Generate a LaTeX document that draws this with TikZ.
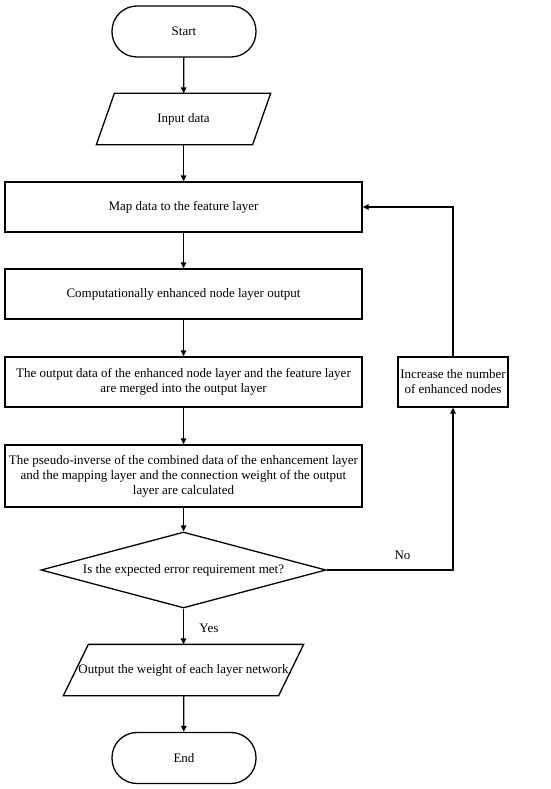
\documentclass[tikz,border=0pt]{standalone}
\usepackage{fontspec}
\setmainfont{Liberation Serif}
\usetikzlibrary{shapes.geometric,arrows.meta,calc}
\begin{document}
\begin{tikzpicture}[x=1pt,y=-1pt,line width=1.3pt,
  font=\fontsize{13}{15}\selectfont,
  box/.style={draw, minimum width=357pt, minimum height=50pt, align=center, inner sep=2pt},
  term/.style={draw, rounded corners=25pt, minimum width=144pt, minimum height=51pt, inner sep=2pt},
  io/.style={minimum height=50pt, inner sep=0pt, align=center},
  decision/.style={draw, diamond, aspect=3.75, minimum width=285pt, minimum height=76pt, inner sep=0pt},
  arr/.style={-{Triangle[length=6pt,width=5.5pt]}}]
\useasboundingbox (0,0) rectangle (550,789);
\fill[white] (0,0) rectangle (550,789);

\node[term] (start) at (184,31.5) {Start};
\node[io, minimum width=173pt] (in) at (183.5,119) {Input data};
\draw ($(in.north west)+(18,0)$) -- (in.north east) -- ($(in.south east)+(-18,0)$) -- (in.south west) -- cycle;
\node[box] (map) at (183.5,207) {Map data to the feature layer};
\node[box] (comp) at (183.5,294) {Computationally enhanced node layer output};
\node[box] (merge) at (183.5,382) {The output data of the enhanced node layer and the feature layer\\are merged into the output layer};
\node[box, minimum width=110pt] (inc) at (453,382) {Increase the number\\of enhanced nodes};
\node[box, minimum height=62pt] (pseudo) at (183.5,476) {The pseudo-inverse of the combined data of the enhancement layer\\and the mapping layer and the connection weight of the output\\layer are calculated};
\node[decision] (dec) at (183.5,570) {Is the expected error requirement met?};
\node[io, minimum width=239pt] (out) at (183.5,670) {Output the weight of each layer network};
\draw ($(out.north west)+(25,0)$) -- (out.north east) -- ($(out.south east)+(-25,0)$) -- (out.south west) -- cycle;
\node[term] (end) at (184,758) {End};

\draw[arr] (start) -- (in);
\draw[arr] (in) -- (map);
\draw[arr] (map) -- (comp);
\draw[arr] (comp) -- (merge);
\draw[arr] (merge) -- (pseudo);
\draw[arr] (pseudo) -- (dec);
\draw[arr] (dec) -- node[right, xshift=12pt, yshift=-2pt] (yes) {Yes} (out);
\draw[arr] (out) -- (end);
\draw[arr] (dec.east) -| node[pos=0.3, above, yshift=6pt] (no) {No} (inc.south);
\draw[arr] (inc.north) |- (map.east);
\end{tikzpicture}
\end{document}
